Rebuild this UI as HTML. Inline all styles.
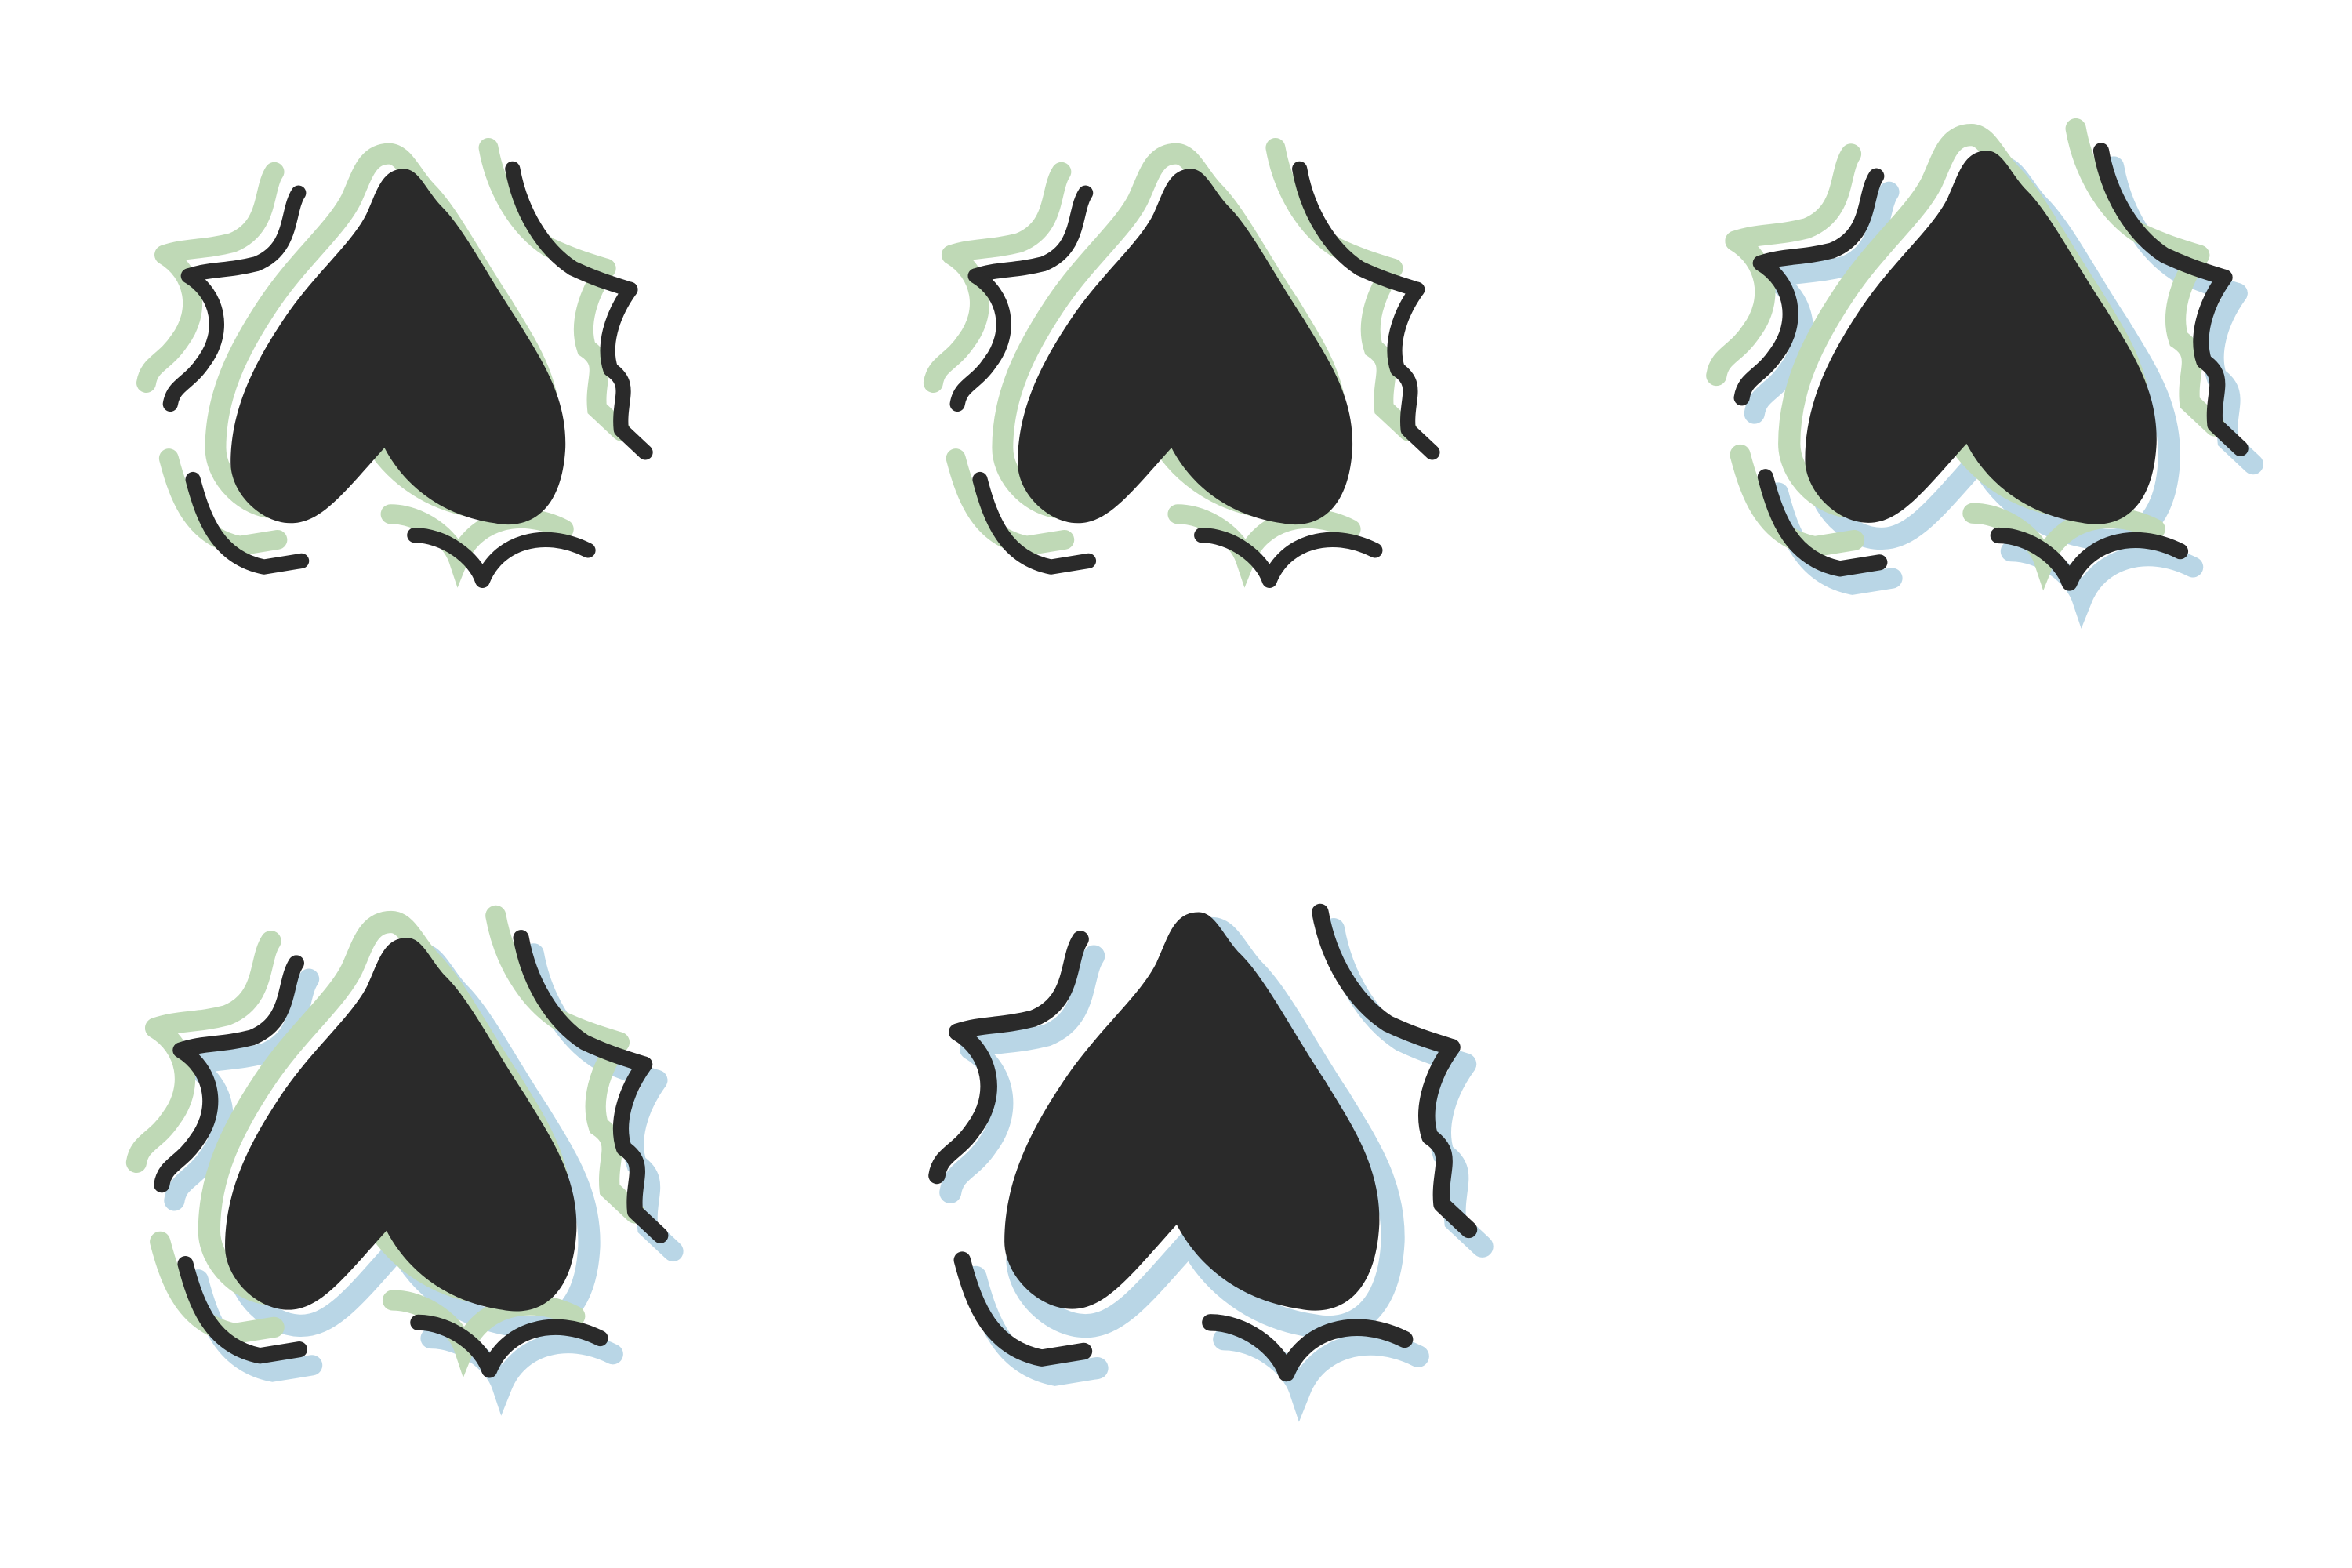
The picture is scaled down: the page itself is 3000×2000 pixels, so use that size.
<!DOCTYPE html>
<html><head><meta charset="utf-8"><style>
html,body{margin:0;padding:0;background:#fff;}
svg{display:block;}
</style></head><body>
<svg id="art" width="3000" height="2000" viewBox="0 0 1560 1040" xmlns="http://www.w3.org/2000/svg">
<defs>
<path id="body" d="M0,0 C-15,0 -18,15 -25,30 C-35,50 -60,70 -80,100 C-100,130 -115,160 -115,195 C-115,215 -95,235 -75,235 C-55,235 -40,215 -13,185 C0,210 25,230 60,235 C85,240 105,225 107,185 C108,150 90,125 75,100 C55,70 40,40 25,25 C15,15 10,0 0,0 Z"/>
<g id="legs">
<path d="M-70,16 C-78,28 -73,53 -98,63 C-118,68 -128,66 -143,71"/>
<path d="M-143,71 C-123,83 -118,108 -133,128 C-143,143 -153,143 -155,156"/>
<path d="M-140,206 C-133,233 -123,258 -93,264 L-68,260"/>
<path d="M7,243 C27,243 47,258 52,273 C62,248 92,238 122,253"/>
<path d="M72,0 C77,28 92,53 112,66 C127,73 137,76 150,80"/>
<path d="M150,80 C137,98 132,118 137,133 C152,143 142,153 144,173 L160,188"/>
</g>
</defs>
<g id="figs"></g>
</svg>
<script>
const figX = [268, 790, 1318, 270, 795];
const figY = [112, 112, 100, 622, 605];
const figScale = [1, 1, 1.05, 1.05, 1.12];
const hasGreen = [1, 1, 1, 1, 0];
const hasBlue = [0, 0, 1, 1, 1];
const NS = 'http://www.w3.org/2000/svg';
const root = document.getElementById('figs');
function use(id, attrs){
  const u = document.createElementNS(NS,'use');
  u.setAttribute('href','#'+id);
  for (const k in attrs) u.setAttribute(k, attrs[k]);
  return u;
}
for (let i=0;i<figX.length;i++){
  const g = document.createElementNS(NS,'g');
  
  
  g.setAttribute('transform','translate('+figX[i]+','+figY[i]+') scale('+figScale[i]+')');
  if (hasBlue[i]){
    const b = document.createElementNS(NS,'g');
    
    
    b.setAttribute('transform','translate(8,10)');
    b.appendChild(use('body',{fill:'none',stroke:'#b9d6e6','stroke-width':14,'stroke-linejoin':'round'}));
    b.appendChild(use('legs',{fill:'none',stroke:'#b9d6e6','stroke-width':13,'stroke-linecap':'round'}));
    g.appendChild(b);
  }
  if (hasGreen[i]){
    const s = document.createElementNS(NS,'g');
    
    
    s.setAttribute('transform','translate(-10,-10)');
    s.appendChild(use('body',{fill:'none',stroke:'#bfd9b6','stroke-width':14,'stroke-linejoin':'round'}));
    s.appendChild(use('legs',{fill:'none',stroke:'#bfd9b6','stroke-width':13,'stroke-linecap':'round',transform:'translate(-6,-4)'}));
    g.appendChild(s);
  }
  const body = use('body',{fill:'#2a2a2a'});
  
  
  g.appendChild(body);
  const legs = use('legs',{fill:'none',stroke:'#2a2a2a','stroke-width':10,'stroke-linecap':'round','stroke-linejoin':'round'});
  
  
  g.appendChild(legs);
  root.appendChild(g);
}
</script>
</body></html>
